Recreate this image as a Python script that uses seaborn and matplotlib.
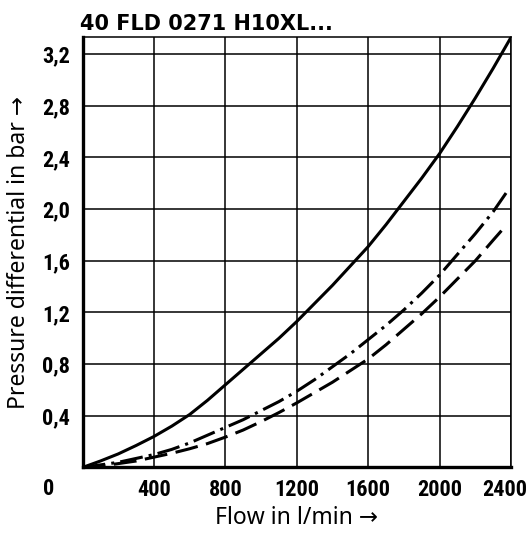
import matplotlib
matplotlib.use("Agg")
import matplotlib.pyplot as plt
from matplotlib import font_manager
from matplotlib.transforms import ScaledTranslation
import pandas as pd
import seaborn as sns

# data (flow in l/min, pressure differential in bar)
flow_solid = [0, 100, 200, 300, 400, 500, 600, 700, 800, 900, 1000, 1100, 1200,
              1300, 1400, 1500, 1600, 1700, 1800, 1900, 2000, 2100, 2200, 2300, 2400]
dp_solid = [0, 0.05, 0.105, 0.17, 0.24, 0.32, 0.41, 0.52, 0.64, 0.76, 0.88, 1.00, 1.13,
            1.27, 1.41, 1.56, 1.71, 1.88, 2.06, 2.24, 2.43, 2.64, 2.86, 3.09, 3.33]

flow_dashdot = [0, 100, 200, 300, 400, 500, 600, 700, 800, 900, 1000, 1100, 1200,
                1300, 1400, 1500, 1600, 1700, 1800, 1900, 2000, 2100, 2200, 2300, 2380]
dp_dashdot = [0, 0.02, 0.04, 0.07, 0.10, 0.14, 0.19, 0.25, 0.31, 0.37, 0.44, 0.51, 0.59,
              0.68, 0.78, 0.88, 0.99, 1.10, 1.22, 1.35, 1.49, 1.65, 1.81, 1.98, 2.14]

flow_dashed = [0, 100, 200, 300, 400, 500, 600, 700, 800, 900, 1000, 1100, 1200,
               1300, 1400, 1500, 1600, 1700, 1800, 1900, 2000, 2100, 2200, 2300, 2370]
dp_dashed = [0, 0.01, 0.03, 0.05, 0.08, 0.11, 0.145, 0.185, 0.235, 0.29, 0.355, 0.425, 0.50,
             0.58, 0.66, 0.75, 0.84, 0.95, 1.07, 1.19, 1.32, 1.46, 1.60, 1.76, 1.87]

x_ticks = [400, 800, 1200, 1600, 2000, 2400]
y_ticks = [0.4, 0.8, 1.2, 1.6, 2.0, 2.4, 2.8, 3.2]
y_tick_labels = ["0,4", "0,8", "1,2", "1,6", "2,0", "2,4", "2,8", "3,2"]

title = "40 FLD 0271 H10XL..."
x_label = "Flow in l/min \u2192"
y_label = "Pressure differential in bar \u2192"

sns.set_style("white")
plt.rcParams["font.family"] = ["Noto Sans", "DejaVu Sans"]
plt.rcParams["text.color"] = "black"
plt.rcParams["axes.labelcolor"] = "black"
plt.rcParams["xtick.color"] = "black"
plt.rcParams["ytick.color"] = "black"

# condensed bold face for the tick numbers, if one is around
names = {f.name for f in font_manager.fontManager.ttflist}
narrow = [n for n in ["Liberation Sans Narrow", "Roboto Condensed", "Open Sans Condensed",
                      "Noto Sans Condensed", "DejaVu Sans Condensed"] if n in names]
condensed_dv = any(f.name == "DejaVu Sans" and f.stretch in ("condensed", "semi-condensed")
                   for f in font_manager.fontManager.ttflist)
if narrow:
    tick_font = dict(family=narrow[0], fontweight="bold", fontsize=16)
elif condensed_dv:
    tick_font = dict(family="DejaVu Sans", fontstretch="condensed", fontweight="bold", fontsize=14.5)
else:
    tick_font = dict(family="Roboto", fontweight="bold", fontsize=14.5)

fig = plt.figure(figsize=(5.3, 5.35), dpi=100)
ax = fig.add_axes([0.1557, 0.1262, 0.8085, 0.8041])

df_solid = pd.DataFrame({"flow": flow_solid, "dp": dp_solid})
df_dashdot = pd.DataFrame({"flow": flow_dashdot, "dp": dp_dashdot})
df_dashed = pd.DataFrame({"flow": flow_dashed, "dp": dp_dashed})

sns.lineplot(data=df_solid, x="flow", y="dp", ax=ax, color="black", lw=2.2, zorder=3)
sns.lineplot(data=df_dashdot, x="flow", y="dp", ax=ax, color="black", lw=2.2,
             linestyle=(0, (7.5, 2.0, 1.0, 2.0)), zorder=3)
sns.lineplot(data=df_dashed, x="flow", y="dp", ax=ax, color="black", lw=2.2,
             linestyle=(0, (7.5, 2.8)), zorder=3)

ax.set_xlim(0, 2400)
ax.set_ylim(0, 3.33)
ax.set_xticks(x_ticks)
ax.set_xticklabels([str(v) for v in x_ticks], **tick_font)
ax.set_yticks(y_ticks)
ax.set_yticklabels(y_tick_labels, **tick_font)
ax.tick_params(length=0)
ax.tick_params(axis="x", pad=8)
ax.tick_params(axis="y", pad=9)

# last x label is nudged left so it stays on the canvas
last = ax.get_xticklabels()[-1]
last.set_transform(last.get_transform() + ScaledTranslation(-6 / 100, 0, fig.dpi_scale_trans))

# shared origin label sits left of the corner
ax.text(-0.08, -0.05, "0", transform=ax.transAxes, ha="center", va="center", **tick_font)

ax.grid(True, color="black", lw=1.1)
ax.set_axisbelow(True)
for side in ["top", "right"]:
    ax.spines[side].set_linewidth(1.1)
    ax.spines[side].set_color("black")
for side in ["left", "bottom"]:
    ax.spines[side].set_linewidth(2.4)
    ax.spines[side].set_color("black")

ax.set_xlabel(x_label, fontsize=16.5, labelpad=4)
ax.set_ylabel(y_label, fontsize=16.5, labelpad=8)
ax.set_title(title, loc="left", fontsize=15, fontweight="bold",
             family="DejaVu Sans", pad=5, x=-0.005)

fig.savefig("out.png", dpi=100)
